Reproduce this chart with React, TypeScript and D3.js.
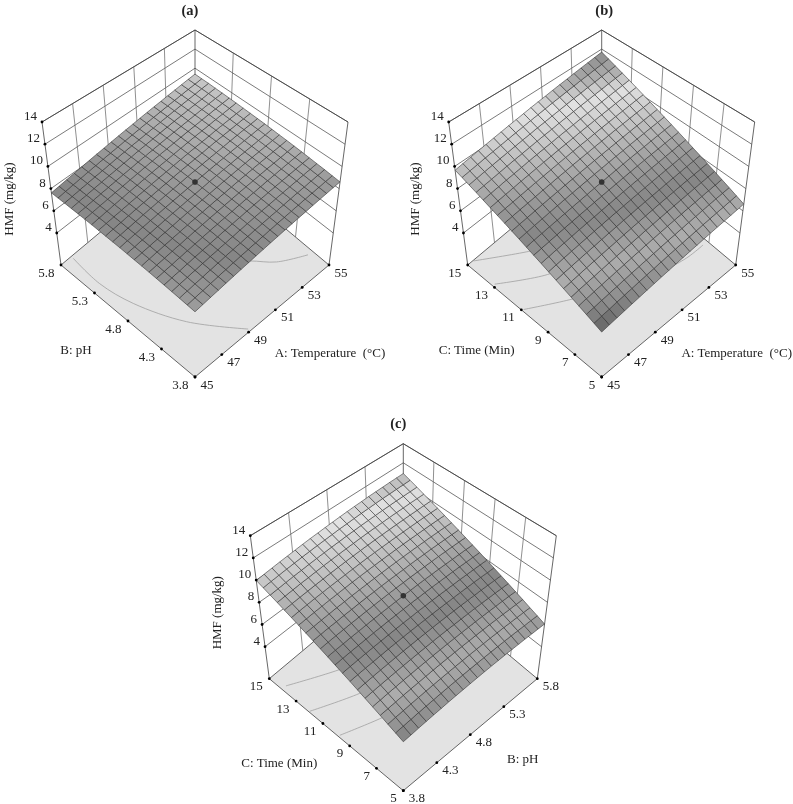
import * as d3 from "d3";

const tempTicks = [45, 47, 49, 51, 53, 55];
const phTicks = [3.8, 4.3, 4.8, 5.3, 5.8];
const timeTicks = [5, 7, 9, 11, 13, 15];
const hmfTicks = [4, 6, 8, 10, 12, 14];

// grey of a mesh cell by its height
const greyZ = [5.35, 6, 6.8, 7.4, 8, 8.84, 9.5, 10.2, 11, 11.5, 12.13];
const greyV = ["#606060", "#8e8e8e", "#acacac", "#9a9a9a", "#868686", "#9a9a9a", "#b0b0b0", "#c8c8c8", "#e2e2e2", "#b0b0b0", "#888888"];

// Mesh heights, 21 x 21 nodes. Estimates: the heights were read at the corners and
// centre of each surface and at the floor contours, the nodes between follow a smooth fit.
// Panel a: rows pH 3.8 -> 5.8, columns temperature 45 -> 55
const heightsA = [
  [7.30, 7.40, 7.50, 7.59, 7.69, 7.78, 7.87, 7.95, 8.04, 8.12, 8.20, 8.27, 8.35, 8.42, 8.49, 8.55, 8.62, 8.68, 8.74, 8.80, 8.85],
  [7.36, 7.46, 7.56, 7.66, 7.75, 7.85, 7.94, 8.03, 8.11, 8.19, 8.27, 8.35, 8.43, 8.50, 8.57, 8.64, 8.71, 8.77, 8.83, 8.89, 8.95],
  [7.42, 7.52, 7.62, 7.72, 7.82, 7.91, 8.01, 8.10, 8.18, 8.27, 8.35, 8.43, 8.51, 8.58, 8.66, 8.73, 8.80, 8.86, 8.93, 8.99, 9.05],
  [7.47, 7.58, 7.68, 7.78, 7.88, 7.98, 8.07, 8.16, 8.25, 8.34, 8.42, 8.51, 8.59, 8.66, 8.74, 8.81, 8.88, 8.95, 9.02, 9.08, 9.14],
  [7.52, 7.63, 7.73, 7.84, 7.94, 8.04, 8.13, 8.23, 8.32, 8.41, 8.49, 8.58, 8.66, 8.74, 8.82, 8.89, 8.96, 9.03, 9.10, 9.17, 9.23],
  [7.57, 7.68, 7.78, 7.89, 7.99, 8.09, 8.19, 8.29, 8.38, 8.47, 8.56, 8.65, 8.73, 8.81, 8.89, 8.97, 9.04, 9.11, 9.18, 9.25, 9.32],
  [7.61, 7.72, 7.83, 7.94, 8.04, 8.15, 8.25, 8.34, 8.44, 8.53, 8.62, 8.71, 8.80, 8.88, 8.96, 9.04, 9.12, 9.19, 9.26, 9.33, 9.40],
  [7.65, 7.76, 7.87, 7.98, 8.09, 8.19, 8.30, 8.40, 8.49, 8.59, 8.68, 8.77, 8.86, 8.95, 9.03, 9.11, 9.19, 9.26, 9.34, 9.41, 9.48],
  [7.68, 7.80, 7.91, 8.02, 8.13, 8.24, 8.35, 8.45, 8.55, 8.64, 8.74, 8.83, 8.92, 9.01, 9.09, 9.18, 9.26, 9.33, 9.41, 9.48, 9.55],
  [7.72, 7.83, 7.95, 8.06, 8.17, 8.28, 8.39, 8.49, 8.60, 8.69, 8.79, 8.89, 8.98, 9.07, 9.15, 9.24, 9.32, 9.40, 9.48, 9.55, 9.63],
  [7.75, 7.87, 7.98, 8.10, 8.21, 8.32, 8.43, 8.54, 8.64, 8.74, 8.84, 8.94, 9.03, 9.12, 9.21, 9.30, 9.38, 9.46, 9.54, 9.62, 9.70],
  [7.77, 7.89, 8.01, 8.13, 8.25, 8.36, 8.47, 8.58, 8.68, 8.79, 8.89, 8.98, 9.08, 9.17, 9.26, 9.35, 9.44, 9.52, 9.61, 9.68, 9.76],
  [7.79, 7.92, 8.04, 8.16, 8.28, 8.39, 8.50, 8.61, 8.72, 8.83, 8.93, 9.03, 9.13, 9.22, 9.32, 9.41, 9.49, 9.58, 9.66, 9.74, 9.82],
  [7.81, 7.94, 8.06, 8.18, 8.30, 8.42, 8.53, 8.65, 8.76, 8.86, 8.97, 9.07, 9.17, 9.27, 9.36, 9.45, 9.55, 9.63, 9.72, 9.80, 9.88],
  [7.83, 7.96, 8.08, 8.21, 8.33, 8.45, 8.56, 8.68, 8.79, 8.90, 9.00, 9.11, 9.21, 9.31, 9.41, 9.50, 9.59, 9.68, 9.77, 9.86, 9.94],
  [7.84, 7.97, 8.10, 8.22, 8.35, 8.47, 8.59, 8.70, 8.82, 8.93, 9.04, 9.14, 9.25, 9.35, 9.45, 9.54, 9.64, 9.73, 9.82, 9.91, 9.99],
  [7.85, 7.98, 8.11, 8.24, 8.36, 8.49, 8.61, 8.72, 8.84, 8.95, 9.06, 9.17, 9.28, 9.38, 9.48, 9.58, 9.68, 9.77, 9.86, 9.95, 10.04],
  [7.85, 7.99, 8.12, 8.25, 8.38, 8.50, 8.62, 8.74, 8.86, 8.98, 9.09, 9.20, 9.31, 9.41, 9.52, 9.62, 9.72, 9.81, 9.90, 10.00, 10.08],
  [7.86, 7.99, 8.13, 8.26, 8.39, 8.51, 8.64, 8.76, 8.88, 9.00, 9.11, 9.22, 9.33, 9.44, 9.55, 9.65, 9.75, 9.85, 9.94, 10.04, 10.13],
  [7.85, 7.99, 8.13, 8.26, 8.39, 8.52, 8.65, 8.77, 8.89, 9.01, 9.13, 9.24, 9.36, 9.47, 9.57, 9.68, 9.78, 9.88, 9.98, 10.07, 10.16],
  [7.85, 7.99, 8.13, 8.26, 8.40, 8.53, 8.66, 8.78, 8.91, 9.03, 9.15, 9.26, 9.38, 9.49, 9.60, 9.70, 9.81, 9.91, 10.01, 10.11, 10.20],
];
// Panel b: rows time 5 -> 15, columns temperature 45 -> 55
const heightsB = [
  [5.35, 5.45, 5.54, 5.63, 5.72, 5.80, 5.89, 5.97, 6.05, 6.12, 6.20, 6.27, 6.34, 6.40, 6.47, 6.53, 6.59, 6.64, 6.70, 6.75, 6.80],
  [5.61, 5.71, 5.80, 5.90, 5.99, 6.07, 6.16, 6.24, 6.32, 6.40, 6.48, 6.55, 6.62, 6.69, 6.75, 6.82, 6.88, 6.94, 6.99, 7.05, 7.10],
  [5.87, 5.97, 6.06, 6.16, 6.25, 6.34, 6.43, 6.51, 6.59, 6.67, 6.75, 6.83, 6.90, 6.97, 7.04, 7.10, 7.17, 7.23, 7.29, 7.34, 7.40],
  [6.12, 6.22, 6.32, 6.42, 6.51, 6.60, 6.69, 6.78, 6.86, 6.95, 7.03, 7.10, 7.18, 7.25, 7.32, 7.39, 7.45, 7.52, 7.58, 7.63, 7.69],
  [6.37, 6.48, 6.58, 6.67, 6.77, 6.86, 6.95, 7.04, 7.13, 7.21, 7.30, 7.37, 7.45, 7.53, 7.60, 7.67, 7.73, 7.80, 7.86, 7.92, 7.98],
  [6.62, 6.72, 6.83, 6.93, 7.02, 7.12, 7.21, 7.30, 7.39, 7.48, 7.56, 7.64, 7.72, 7.80, 7.87, 7.94, 8.01, 8.08, 8.14, 8.20, 8.26],
  [6.86, 6.97, 7.07, 7.18, 7.28, 7.37, 7.47, 7.56, 7.65, 7.74, 7.82, 7.91, 7.99, 8.07, 8.14, 8.22, 8.29, 8.35, 8.42, 8.48, 8.55],
  [7.10, 7.21, 7.32, 7.42, 7.52, 7.62, 7.72, 7.81, 7.91, 8.00, 8.08, 8.17, 8.25, 8.33, 8.41, 8.48, 8.56, 8.63, 8.70, 8.76, 8.82],
  [7.34, 7.45, 7.56, 7.66, 7.77, 7.87, 7.97, 8.06, 8.16, 8.25, 8.34, 8.43, 8.51, 8.59, 8.67, 8.75, 8.82, 8.90, 8.97, 9.04, 9.10],
  [7.57, 7.68, 7.79, 7.90, 8.01, 8.11, 8.21, 8.31, 8.41, 8.50, 8.59, 8.68, 8.77, 8.85, 8.93, 9.01, 9.09, 9.16, 9.23, 9.30, 9.37],
  [7.80, 7.92, 8.03, 8.14, 8.24, 8.35, 8.45, 8.55, 8.65, 8.75, 8.84, 8.93, 9.02, 9.11, 9.19, 9.27, 9.35, 9.43, 9.50, 9.57, 9.64],
  [8.03, 8.14, 8.26, 8.37, 8.48, 8.59, 8.69, 8.79, 8.89, 8.99, 9.09, 9.18, 9.27, 9.36, 9.44, 9.53, 9.61, 9.68, 9.76, 9.83, 9.90],
  [8.25, 8.37, 8.48, 8.60, 8.71, 8.82, 8.92, 9.03, 9.13, 9.23, 9.33, 9.42, 9.51, 9.60, 9.69, 9.78, 9.86, 9.94, 10.02, 10.09, 10.17],
  [8.47, 8.59, 8.71, 8.82, 8.93, 9.05, 9.15, 9.26, 9.36, 9.47, 9.57, 9.66, 9.76, 9.85, 9.94, 10.03, 10.11, 10.19, 10.27, 10.35, 10.42],
  [8.68, 8.81, 8.92, 9.04, 9.16, 9.27, 9.38, 9.49, 9.60, 9.70, 9.80, 9.90, 9.99, 10.09, 10.18, 10.27, 10.36, 10.44, 10.52, 10.60, 10.68],
  [8.89, 9.02, 9.14, 9.26, 9.38, 9.49, 9.61, 9.72, 9.82, 9.93, 10.03, 10.13, 10.23, 10.33, 10.42, 10.51, 10.60, 10.69, 10.77, 10.85, 10.93],
  [9.10, 9.23, 9.35, 9.48, 9.59, 9.71, 9.83, 9.94, 10.05, 10.15, 10.26, 10.36, 10.46, 10.56, 10.65, 10.75, 10.84, 10.93, 11.01, 11.10, 11.18],
  [9.31, 9.44, 9.56, 9.69, 9.81, 9.93, 10.04, 10.16, 10.27, 10.38, 10.48, 10.59, 10.69, 10.79, 10.89, 10.98, 11.07, 11.16, 11.25, 11.34, 11.42],
  [9.51, 9.64, 9.77, 9.89, 10.02, 10.14, 10.25, 10.37, 10.48, 10.60, 10.70, 10.81, 10.91, 11.02, 11.12, 11.21, 11.31, 11.40, 11.49, 11.58, 11.66],
  [9.71, 9.84, 9.97, 10.10, 10.22, 10.34, 10.46, 10.58, 10.70, 10.81, 10.92, 11.03, 11.14, 11.24, 11.34, 11.44, 11.54, 11.63, 11.72, 11.81, 11.90],
  [9.90, 10.04, 10.17, 10.30, 10.42, 10.55, 10.67, 10.79, 10.91, 11.02, 11.14, 11.25, 11.35, 11.46, 11.56, 11.66, 11.76, 11.86, 11.95, 12.04, 12.13],
];
// Panel c: rows time 5 -> 15, columns pH 3.8 -> 5.8
const heightsC = [
  [5.74, 5.80, 5.87, 5.93, 5.98, 6.03, 6.08, 6.12, 6.15, 6.18, 6.21, 6.23, 6.25, 6.26, 6.27, 6.27, 6.26, 6.26, 6.24, 6.23, 6.21],
  [6.00, 6.07, 6.13, 6.20, 6.25, 6.30, 6.35, 6.39, 6.43, 6.46, 6.49, 6.51, 6.53, 6.55, 6.55, 6.56, 6.56, 6.55, 6.54, 6.53, 6.51],
  [6.25, 6.33, 6.39, 6.46, 6.52, 6.57, 6.62, 6.66, 6.70, 6.74, 6.77, 6.79, 6.81, 6.83, 6.84, 6.85, 6.85, 6.84, 6.83, 6.82, 6.80],
  [6.51, 6.58, 6.65, 6.72, 6.78, 6.83, 6.88, 6.93, 6.97, 7.01, 7.04, 7.07, 7.09, 7.11, 7.12, 7.13, 7.13, 7.13, 7.12, 7.11, 7.10],
  [6.76, 6.83, 6.91, 6.97, 7.04, 7.09, 7.15, 7.19, 7.24, 7.28, 7.31, 7.34, 7.36, 7.38, 7.40, 7.41, 7.41, 7.41, 7.41, 7.40, 7.38],
  [7.00, 7.08, 7.15, 7.22, 7.29, 7.35, 7.40, 7.45, 7.50, 7.54, 7.58, 7.61, 7.63, 7.65, 7.67, 7.68, 7.69, 7.69, 7.69, 7.68, 7.67],
  [7.24, 7.32, 7.40, 7.47, 7.54, 7.60, 7.66, 7.71, 7.76, 7.80, 7.84, 7.87, 7.90, 7.92, 7.94, 7.95, 7.96, 7.97, 7.97, 7.96, 7.95],
  [7.48, 7.56, 7.64, 7.71, 7.78, 7.85, 7.91, 7.96, 8.01, 8.05, 8.09, 8.13, 8.16, 8.18, 8.20, 8.22, 8.23, 8.24, 8.24, 8.23, 8.23],
  [7.71, 7.80, 7.88, 7.95, 8.02, 8.09, 8.15, 8.21, 8.26, 8.30, 8.35, 8.38, 8.42, 8.44, 8.46, 8.48, 8.50, 8.50, 8.51, 8.51, 8.50],
  [7.94, 8.03, 8.11, 8.19, 8.26, 8.33, 8.39, 8.45, 8.50, 8.55, 8.60, 8.63, 8.67, 8.70, 8.72, 8.74, 8.76, 8.77, 8.77, 8.77, 8.77],
  [8.17, 8.26, 8.34, 8.42, 8.49, 8.56, 8.63, 8.69, 8.74, 8.79, 8.84, 8.88, 8.92, 8.95, 8.97, 9.00, 9.01, 9.02, 9.03, 9.04, 9.03],
  [8.39, 8.48, 8.57, 8.65, 8.72, 8.79, 8.86, 8.92, 8.98, 9.03, 9.08, 9.12, 9.16, 9.19, 9.22, 9.25, 9.27, 9.28, 9.29, 9.29, 9.29],
  [8.61, 8.70, 8.79, 8.87, 8.95, 9.02, 9.09, 9.16, 9.21, 9.27, 9.32, 9.36, 9.40, 9.44, 9.47, 9.49, 9.52, 9.53, 9.54, 9.55, 9.55],
  [8.82, 8.91, 9.00, 9.09, 9.17, 9.24, 9.32, 9.38, 9.44, 9.50, 9.55, 9.60, 9.64, 9.68, 9.71, 9.74, 9.76, 9.78, 9.79, 9.80, 9.80],
  [9.03, 9.12, 9.22, 9.30, 9.39, 9.46, 9.54, 9.61, 9.67, 9.73, 9.78, 9.83, 9.87, 9.91, 9.95, 9.98, 10.00, 10.02, 10.04, 10.05, 10.05],
  [9.23, 9.33, 9.43, 9.52, 9.60, 9.68, 9.75, 9.82, 9.89, 9.95, 10.01, 10.06, 10.10, 10.14, 10.18, 10.21, 10.24, 10.26, 10.28, 10.29, 10.30],
  [9.43, 9.54, 9.63, 9.72, 9.81, 9.89, 9.97, 10.04, 10.11, 10.17, 10.23, 10.28, 10.33, 10.37, 10.41, 10.44, 10.47, 10.49, 10.51, 10.53, 10.54],
  [9.63, 9.73, 9.83, 9.93, 10.01, 10.10, 10.18, 10.25, 10.32, 10.38, 10.44, 10.50, 10.55, 10.59, 10.63, 10.67, 10.70, 10.72, 10.75, 10.76, 10.77],
  [9.82, 9.93, 10.03, 10.13, 10.21, 10.30, 10.38, 10.46, 10.53, 10.59, 10.66, 10.71, 10.77, 10.81, 10.85, 10.89, 10.92, 10.95, 10.97, 10.99, 11.01],
  [10.01, 10.12, 10.22, 10.32, 10.41, 10.50, 10.58, 10.66, 10.73, 10.80, 10.87, 10.92, 10.98, 11.03, 11.07, 11.11, 11.15, 11.17, 11.20, 11.22, 11.24],
  [10.20, 10.31, 10.41, 10.51, 10.60, 10.69, 10.78, 10.86, 10.93, 11.00, 11.07, 11.13, 11.19, 11.24, 11.28, 11.33, 11.36, 11.39, 11.42, 11.44, 11.46],
];

const contoursA = [
  [[45.76, 5.78], [45.6, 5.32], [45.95, 4.88], [47.05, 4.33], [48.9, 3.83]],
  [[51, 4.65], [52.25, 4.43], [53.2, 4.22], [54.76, 4.05]],
];
const contoursB = [
  [[45.4, 15], [47.8, 13.5], [49.5, 12.6]],
  [[45.15, 13], [47.4, 11.6], [49.5, 10.9]],
  [[45.1, 10.7], [47.2, 9.5], [50, 8.2]],
  [[52, 7.4], [53.64, 7.15], [54.85, 7.15]],
];
const contoursC = [
  [[3.86, 14], [4.33, 13], [4.9, 12]],
  [[3.81, 11.84], [4.3, 10.95], [4.9, 10.2]],
  [[3.82, 9.61], [4.25, 8.95], [4.8, 8.3]],
];

const boxW = d3.scaleLinear().domain([1.12, 14]).range([0, 1]);
const surfW = d3.scaleLinear().domain([0.71, 14]).range([0, 1]);
const grey = d3.scaleLinear<string>().domain(greyZ).range(greyV).clamp(true);
const FONT = "'Liberation Serif', 'Times New Roman', serif";
const INK = "#404040";

type PanelProps = {
  dx: number;
  dy: number;
  title: string;
  titleX: number;
  rightTicks: number[];
  leftTicks: number[];
  rightName: string;
  leftName: string;
  rightNameAt: number[];
  leftNameAt: number[];
  heights: number[][];
  contours: number[][][];
};

// axes of the frame are evenly spaced on the page
const box = (u: number, v: number, w: number): [number, number] => {
  const a = (u + v) / 2;
  const b = (u - v) / 2;
  return [195 + b * (134 + 19 * w), 265 - 143 * w + a * (-112 + 20 * w)];
};
// the surface and the floor contours are in real perspective
const persp = (u: number, v: number, w: number): [number, number] => {
  const a = (u + v) / 2;
  const b = (u - v) / 2;
  const d = 1 + 0.0907 * a - 0.124 * w;
  return [195 + (134 * b) / d, (265 - 77.8 * a - 158.2 * w) / d];
};

function Panel(p: PanelProps) {
  const ux = d3.scaleLinear().domain(d3.extent(p.rightTicks) as number[]).range([-1, 1]);
  const uy = d3.scaleLinear().domain(d3.extent(p.leftTicks) as number[]).range([-1, 1]);
  const line = d3.line();
  const seg = (...pts: [number, number][]) => line(pts) as string;
  const smooth = d3.line().curve(d3.curveCatmullRom);
  const node = (i: number, j: number) => persp(i / 10 - 1, j / 10 - 1, surfW(p.heights[j][i]));
  const cells = d3.range(20).flatMap((j) => d3.range(20).map((i) => [i, j]));
  return (
    <g transform={`translate(${p.dx},${p.dy})`}>
      <path d={seg(box(-1, -1, 0), box(1, -1, 0), box(1, 1, 0), box(-1, 1, 0)) + "Z"} fill="#e3e3e3" stroke={INK} strokeWidth={0.8} />
      {hmfTicks.map((t) => (
        <path key={t} d={seg(box(-1, 1, boxW(t)), box(1, 1, boxW(t)), box(1, -1, boxW(t)))} fill="none" stroke={INK} strokeWidth={0.7} />
      ))}
      <path d={seg(box(-1, 1, 0), box(-1, 1, 1), box(1, 1, 1), box(1, -1, 1), box(1, -1, 0))} fill="none" stroke={INK} strokeWidth={0.8} />
      <path d={seg(box(1, 1, 0), box(1, 1, 1))} stroke={INK} strokeWidth={0.8} />
      {p.rightTicks.slice(1, -1).map((t) => (
        <path key={t} d={seg(box(ux(t), 1, 0), box(ux(t), 1, 1))} stroke="#606060" strokeWidth={0.7} />
      ))}
      {p.leftTicks.slice(1, -1).map((t) => (
        <path key={t} d={seg(box(1, uy(t), 0), box(1, uy(t), 1))} stroke="#606060" strokeWidth={0.7} />
      ))}
      {p.contours.map((c, k) => (
        <path
          key={k}
          d={smooth(c.map(([x, y]) => persp(ux(x), uy(y), 0))) as string}
          fill="none"
          stroke="#a0a0a0"
          strokeWidth={0.8}
        />
      ))}
      {cells.map(([i, j]) => {
        const h = (p.heights[j][i] + p.heights[j][i + 1] + p.heights[j + 1][i] + p.heights[j + 1][i + 1]) / 4;
        return (
          <path
            key={`${i}-${j}`}
            d={seg(node(i, j), node(i + 1, j), node(i + 1, j + 1), node(i, j + 1)) + "Z"}
            fill={grey(h)}
            stroke="#2a2a2a"
            strokeWidth={0.55}
          />
        );
      })}
      <circle cx={node(10, 10)[0]} cy={node(10, 10)[1]} r={2.8} fill="#333" />
      {hmfTicks.map((t) => {
        const [x, y] = box(-1, 1, boxW(t));
        return <circle key={t} cx={x} cy={y} r={1.4} fill="#000" />;
      })}
      {p.rightTicks.map((t) => {
        const [x, y] = box(ux(t), -1, 0);
        return <circle key={t} cx={x} cy={y} r={1.4} fill="#000" />;
      })}
      {p.leftTicks.map((t) => {
        const [x, y] = box(-1, uy(t), 0);
        return <circle key={t} cx={x} cy={y} r={1.4} fill="#000" />;
      })}
      <g fontFamily={FONT} fontSize={13} fill="#222">
        <text x={p.titleX} y={14.5} textAnchor="middle" fontWeight="bold" fontSize={14.5}>
          {p.title}
        </text>
        {hmfTicks.map((t) => {
          const [x, y] = box(-1, 1, boxW(t));
          return <text key={t} x={x - 5} y={y - 2} textAnchor="end">{t}</text>;
        })}
        {p.rightTicks.map((t) => {
          const [x, y] = box(ux(t), -1, 0);
          return <text key={t} x={x + 5.5} y={y + 11.5}>{t}</text>;
        })}
        {p.leftTicks.map((t) => {
          const [x, y] = box(-1, uy(t), 0);
          return <text key={t} x={x - 6.5} y={y + 11.5} textAnchor="end">{t}</text>;
        })}
        <text x={8} y={199} textAnchor="middle" dominantBaseline="central" transform="rotate(-90 8 199)">HMF (mg/kg)</text>
        <text x={p.rightNameAt[0]} y={p.rightNameAt[1]} textAnchor="middle" style={{ whiteSpace: "pre" }}>{p.rightName}</text>
        <text x={p.leftNameAt[0]} y={p.leftNameAt[1]} textAnchor="middle">{p.leftName}</text>
      </g>
    </g>
  );
}

export default function App() {
  // own compositing layer without a background, so the text antialiasing stays grey
  return (
    <svg width={793} height={804} style={{ position: "absolute", left: 0, top: 0, willChange: "transform" }}>
      <Panel dx={0} dy={0} title="(a)" titleX={190} rightTicks={tempTicks} leftTicks={phTicks} rightName={"A: Temperature  (°C)"} leftName="B: pH" rightNameAt={[330, 357]} leftNameAt={[76, 354]} heights={heightsA} contours={contoursA} />
      <Panel dx={406.7} dy={0} title="(b)" titleX={197.5} rightTicks={tempTicks} leftTicks={timeTicks} rightName={"A: Temperature  (°C)"} leftName="C: Time (Min)" rightNameAt={[330, 357]} leftNameAt={[70, 354]} heights={heightsB} contours={contoursB} />
      <Panel dx={208.3} dy={413.7} title="(c)" titleX={190} rightTicks={phTicks} leftTicks={timeTicks} rightName="B: pH" leftName="C: Time (Min)" rightNameAt={[314.4, 349]} leftNameAt={[71, 353]} heights={heightsC} contours={contoursC} />
    </svg>
  );
}
